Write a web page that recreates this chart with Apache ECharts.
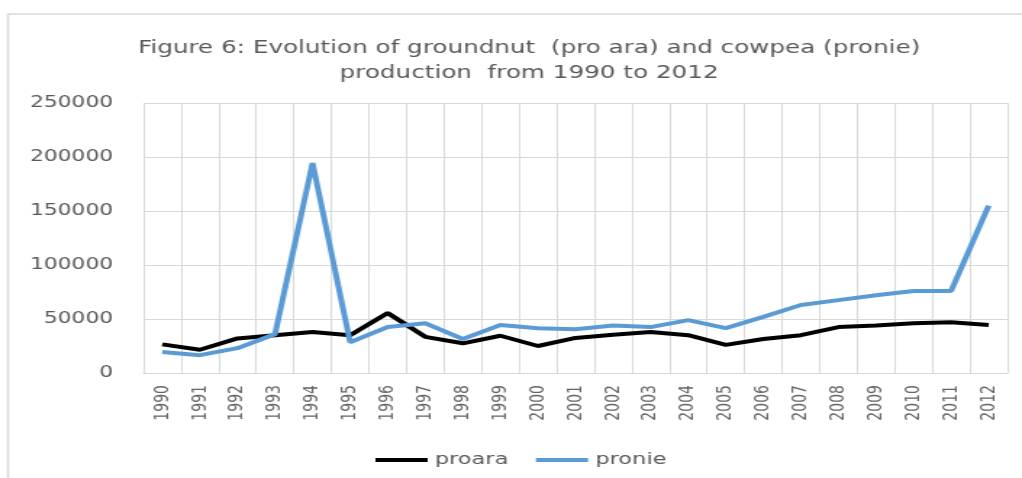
<!DOCTYPE html>
<html>
<head>
<meta charset="utf-8">
<script src="https://cdn.jsdelivr.net/npm/echarts@6/dist/echarts.min.js"></script>
<style>
  html, body { margin: 0; padding: 0; background: #fff; overflow: hidden; }
  #frame { width: 1022px; height: 478px; overflow: hidden; }
  /* the figure is laid out narrow and widened horizontally, as in the published figure */
  #chart { width: 705px; height: 478px; transform: scaleX(1.4496); transform-origin: 0 0; }
</style>
</head>
<body>
<div id="frame"><div id="chart"></div></div>
<script>
// Production by year, 1990–2012
const years = ['1990','1991','1992','1993','1994','1995','1996','1997','1998','1999','2000','2001',
               '2002','2003','2004','2005','2006','2007','2008','2009','2010','2011','2012'];
const proara = [26500, 21500, 32000, 35000, 38000, 35000, 55500, 33500, 27500, 34500, 25000, 32500,
                35500, 38000, 35000, 26000, 31500, 35000, 42500, 44000, 46000, 47000, 44500];
const pronie = [19500, 16500, 23000, 36000, 194500, 28500, 42500, 46000, 31500, 44500, 41500, 40500,
                44000, 42500, 49000, 41500, 52000, 63000, 67500, 72000, 76000, 76000, 155000];
const yTicks = [0, 50000, 100000, 150000, 200000, 250000];

const chart = echarts.init(document.getElementById('chart'));
chart.setOption({
  animation: false,
  backgroundColor: '#ffffff',
  title: {
    text: 'Figure 6: Evolution of groundnut  (pro ara) and cowpea (pronie)\nproduction  from 1990 to 2012',
    left: 360,
    textAlign: 'center',
    top: 31,
    textStyle: {
      fontFamily: 'DejaVu Sans',
      fontSize: 17,
      fontWeight: 'normal',
      color: '#595959',
      lineHeight: 25
    }
  },
  graphic: [{
    type: 'rect',
    shape: { x: 5.5, y: 14, width: 760, height: 500 },
    style: { fill: 'none', stroke: '#d9d9d9', lineWidth: 1.5 },
    silent: true
  }],
  legend: {
    bottom: 5,
    left: 254,
    icon: 'rect',
    itemWidth: 36,
    itemHeight: 4,
    itemGap: 19,
    textStyle: { fontFamily: 'DejaVu Sans', fontSize: 15.5, color: '#595959' },
    data: ['proara', 'pronie']
  },
  grid: { left: 99, right: 10, top: 103, bottom: 105 },
  xAxis: {
    type: 'category',
    data: years,
    boundaryGap: true,
    axisLine: { lineStyle: { color: '#d9d9d9', width: 1 } },
    axisTick: { show: false },
    splitLine: { show: true, lineStyle: { color: '#d9d9d9', width: 1 } },
    axisLabel: {
      rotate: 90,
      interval: 0,
      margin: 12,
      fontFamily: 'DejaVu Sans',
      fontSize: 14,
      color: '#666666'
    }
  },
  yAxis: {
    type: 'value',
    min: yTicks[0],
    max: yTicks[yTicks.length - 1],
    interval: 50000,
    axisLine: { show: false },
    axisTick: { show: false },
    splitLine: { lineStyle: { color: '#d9d9d9', width: 1 } },
    axisLabel: {
      margin: 21,
      fontFamily: 'DejaVu Sans',
      fontSize: 15,
      color: '#595959',
      formatter: (v) => String(v)
    }
  },
  series: [
    {
      name: 'proara',
      type: 'line',
      data: proara,
      showSymbol: false,
      symbol: 'none',
      lineStyle: { color: '#000000', width: 4 },
      itemStyle: { color: '#000000' }
    },
    {
      name: 'pronie',
      type: 'line',
      data: pronie,
      showSymbol: false,
      symbol: 'none',
      lineStyle: { color: '#5b9bd5', width: 4 },
      itemStyle: { color: '#5b9bd5' }
    }
  ]
});
</script>
</body>
</html>
